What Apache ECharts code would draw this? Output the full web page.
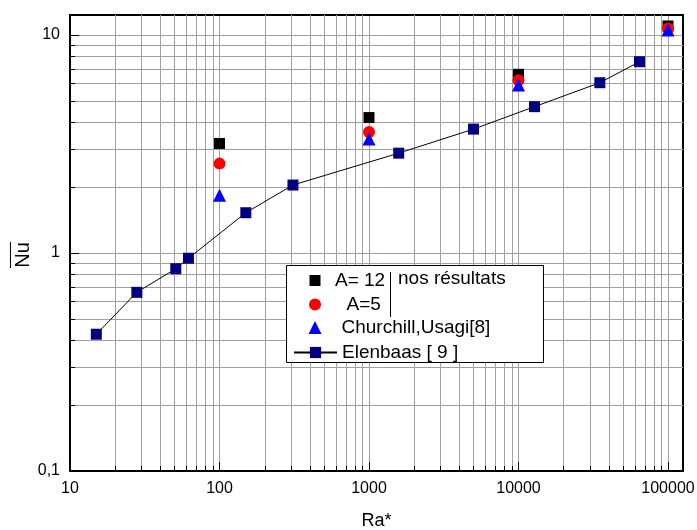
<!DOCTYPE html>
<html>
<head>
<meta charset="utf-8">
<script src="https://cdn.jsdelivr.net/npm/echarts@6/dist/echarts.min.js"></script>
<style>
  html, body { margin: 0; padding: 0; background: #fff; }
  #chart { width: 697px; height: 530px; }
</style>
</head>
<body>
<div id="chart"></div>
<script>
    // valeurs
    var raNos = [100, 1000, 10000, 100000];
    var nuA12 = [3.18, 4.18, 6.6, 11.0];
    var nuA5 = [2.57, 3.59, 6.2, 10.7];
    var nuChurchill = [1.84, 3.33, 5.9, 10.55];

    var raElenbaas = [15, 28, 51, 62, 150, 310, 1580, 5000, 12800, 35000, 64500];
    var nuElenbaas = [0.424, 0.66, 0.847, 0.946, 1.53, 2.05, 2.87, 3.70, 4.69, 6.04, 7.54];

    var xDecades = [10, 100, 1000, 10000];
    var yDecades = [0.1, 1];

    var fontName = '"Liberation Sans", Arial, sans-serif';

    // lignes secondaires 2..9 de chaque decade
    function fnMinor(decades){
        var out = [];
        for(var i=0;i<decades.length;i++){
            for(var k=2;k<=9;k++){
                out.push(+(decades[i]*k).toPrecision(6));
            }
        }
        return out;
    }
    var minorX = fnMinor(xDecades);
    var minorY = fnMinor(yDecades);

    function fnPair(xs, ys){
        var out = [];
        for(var i=0;i<xs.length;i++){
            out.push([xs[i], ys[i]]);
        }
        return out;
    }
    function fnFill(n, v){
        var out = [];
        for(var i=0;i<n;i++){ out.push(v); }
        return out;
    }

    var gridColor = '#a0a0a0';

    function renderMinorX(params, api){
        var cs = params.coordSys;
        var x = Math.round(api.coord([api.value(0), 1])[0]) + 0.5;
        var yb = cs.y + cs.height;
        return {type:'group', children:[
            {type:'line', shape:{x1:x, y1:cs.y, x2:x, y2:yb}, style:{stroke:gridColor, lineWidth:1}},
            {type:'line', shape:{x1:x, y1:yb, x2:x, y2:yb-5}, style:{stroke:'#000', lineWidth:1}}
        ]};
    }
    function renderMinorY(params, api){
        var cs = params.coordSys;
        var y = Math.round(api.coord([100, api.value(1)])[1]) + 0.5;
        return {type:'group', children:[
            {type:'line', shape:{x1:cs.x, y1:y, x2:cs.x+cs.width, y2:y}, style:{stroke:gridColor, lineWidth:1}},
            {type:'line', shape:{x1:cs.x, y1:y, x2:cs.x+5, y2:y}, style:{stroke:'#000', lineWidth:1}}
        ]};
    }

    // une legende par ligne pour placer chaque texte
    function fnLegend(name, left, top, w, h, padLeft){
        return {
            data:[name], left:left, top:top, orient:'vertical', padding:0,
            itemWidth:w, itemHeight:h,
            textStyle:{color:'#000', fontSize:19, fontFamily:fontName, lineHeight:14, padding:[0, 0, 0, padLeft]},
            selectedMode:false, z:20
        };
    }

    var myChart = echarts.init(document.getElementById('chart'));
    var option = {
        animation:false,
        backgroundColor:'#fff',
        grid:{left:70, top:15, right:14, bottom:59, outerBoundsMode:'none'},
        xAxis:[
            {
                type:'log', min:10, max:126000, logBase:10,
                name:'Ra*', nameLocation:'middle', nameGap:41,
                nameTextStyle:{color:'#000', fontSize:18, fontFamily:fontName},
                axisLine:{lineStyle:{color:'#000', width:2}},
                axisTick:{inside:true, length:9, lineStyle:{color:'#000', width:1}},
                axisLabel:{
                    color:'#000', fontSize:16, fontFamily:fontName, margin:10, showMaxLabel:false,
                    formatter:function(v){ return String(v); }
                },
                splitLine:{show:true, lineStyle:{color:gridColor, width:1}}
            },
            {
                type:'log', min:10, max:126000, position:'top',
                axisLine:{lineStyle:{color:'#000', width:2}},
                axisTick:{show:false}, axisLabel:{show:false}, splitLine:{show:false}
            }
        ],
        yAxis:[
            {
                type:'log', min:0.1, max:12.35, logBase:10,
                axisLine:{lineStyle:{color:'#000', width:2}},
                axisTick:{inside:true, length:9, lineStyle:{color:'#000', width:1}},
                axisLabel:{
                    color:'#000', fontSize:16, fontFamily:fontName, margin:10, showMaxLabel:false,
                    formatter:function(v){ return String(v).replace('.', ','); }
                },
                splitLine:{show:true, lineStyle:{color:gridColor, width:1}}
            },
            {
                type:'log', min:0.1, max:12.35, position:'right',
                axisLine:{lineStyle:{color:'#000', width:2}},
                axisTick:{show:false}, axisLabel:{show:false}, splitLine:{show:false}
            }
        ],
        legend:[
            fnLegend('A= 12', 309.5, 271, 11, 11, 9.5),
            fnLegend('A=5', 309, 295, 12, 12, 20.5),
            fnLegend('Churchill,Usagi[8]', 308.5, 318, 13, 13, 15),
            fnLegend('Elenbaas [ 9 ]', 293, 343, 43, 14, 0)
        ],
        graphic:[
            {type:'rect', z:10, shape:{x:286.5, y:265.5, width:257, height:97},
                style:{fill:'#fff', stroke:'#000', lineWidth:1}},
            {type:'line', z:11, shape:{x1:390.5, y1:272, x2:390.5, y2:317},
                style:{stroke:'#000', lineWidth:1}},
            {type:'text', z:11, x:398, y:279,
                style:{text:'nos résultats', fill:'#000', font:'19px ' + fontName, verticalAlign:'middle'}},
            {type:'text', z:11, x:23, y:255, rotation:Math.PI/2,
                style:{text:'Nu', fill:'#000', font:'20px ' + fontName, align:'center', verticalAlign:'middle'}},
            {type:'line', z:11, shape:{x1:10.5, y1:242, x2:10.5, y2:268},
                style:{stroke:'#000', lineWidth:1}}
        ],
        series:[
            {type:'custom', silent:true, z:1, renderItem:renderMinorX, data:fnPair(minorX, fnFill(minorX.length, 1))},
            {type:'custom', silent:true, z:1, renderItem:renderMinorY, data:fnPair(fnFill(minorY.length, 100), minorY)},
            {
                name:'A= 12', type:'scatter', symbol:'rect', symbolSize:11, z:3,
                itemStyle:{color:'#000', opacity:1}, data:fnPair(raNos, nuA12)
            },
            {
                name:'A=5', type:'scatter', symbol:'circle', symbolSize:12, z:3,
                itemStyle:{color:'#ff0000', opacity:1}, data:fnPair(raNos, nuA5)
            },
            {
                name:'Churchill,Usagi[8]', type:'scatter', symbol:'triangle', symbolSize:13, z:3,
                itemStyle:{color:'#0000ff', opacity:1}, data:fnPair(raNos, nuChurchill)
            },
            {
                name:'Elenbaas [ 9 ]', type:'line', symbol:'rect', symbolSize:11, z:3,
                lineStyle:{color:'#000', width:1}, itemStyle:{color:'#000080'},
                data:fnPair(raElenbaas, nuElenbaas)
            }
        ]
    };
    myChart.setOption(option);
</script>
</body>
</html>
